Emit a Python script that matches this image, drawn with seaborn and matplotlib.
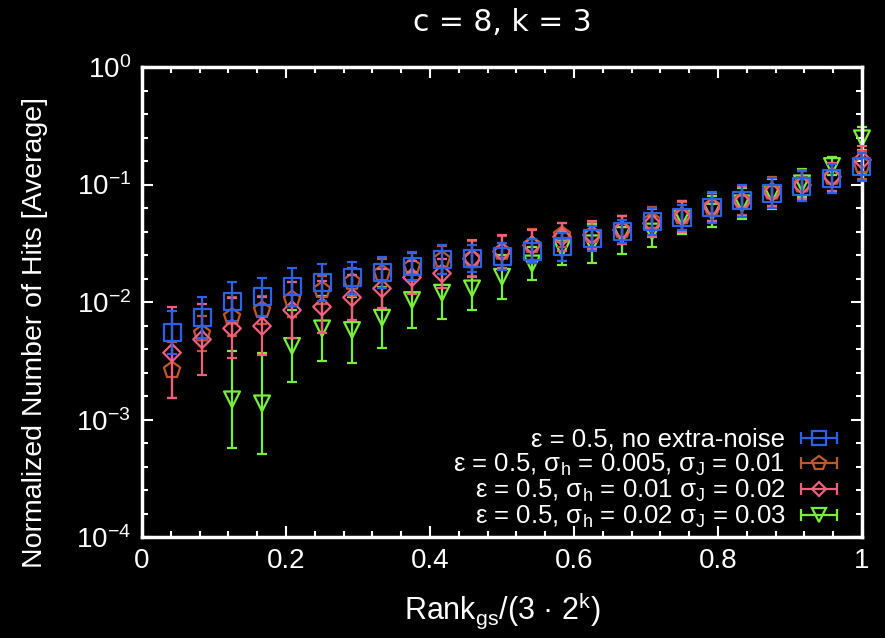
import numpy as np
import pandas as pd
import seaborn as sns
import matplotlib
matplotlib.use("Agg")
import matplotlib.pyplot as plt
from matplotlib.ticker import FixedLocator, FixedFormatter, NullFormatter
from matplotlib.lines import Line2D
from matplotlib.legend_handler import HandlerBase

# ---------------- data ----------------
rank = [i / 24 for i in range(1, 25)]

blue_val = [5.48e-3, 7.36e-3, 1.007e-2, 1.109e-2, 1.349e-2, 1.469e-2, 1.611e-2, 1.778e-2,
            2.023e-2, 2.307e-2, 2.355e-2, 2.46e-2, 2.716e-2, 2.958e-2, 3.483e-2, 3.972e-2,
            4.83e-2, 5.22e-2, 6.40e-2, 7.28e-2, 8.41e-2, 9.70e-2, 0.113, 0.142]
blue_err = [0.184, 0.173, 0.167, 0.162, 0.16, 0.154, 0.136, 0.13, 0.12, 0.12, 0.113, 0.115,
            0.10, 0.12, 0.105, 0.10, 0.113, 0.108, 0.13, 0.134, 0.128, 0.13, 0.124, 0.12]

orange_val = [2.64e-3, 5.41e-3, 7.50e-3, 8.55e-3, 1.054e-2, 1.265e-2, 1.489e-2, 1.754e-2,
              1.995e-2, 2.29e-2, 2.34e-2, 2.68e-2, 3.05e-2, 3.72e-2, 3.72e-2, 4.10e-2,
              4.90e-2, 5.37e-2, 6.46e-2, 7.24e-2, 8.71e-2, 0.100, 0.1164, 0.1466]
orange_err = [0.24, 0.15, 0.165, 0.12, 0.15, 0.12, 0.12, 0.12, 0.12, 0.12, 0.15, 0.136,
              0.134, 0.10, 0.11, 0.12, 0.12, 0.12, 0.12, 0.12, 0.12, 0.12, 0.12, 0.12]

pink_val = [3.71e-3, 4.81e-3, 5.97e-3, 6.25e-3, 8.55e-3, 9.12e-3, 1.096e-2, 1.306e-2,
            1.622e-2, 1.754e-2, 2.34e-2, 2.69e-2, 3.05e-2, 3.59e-2, 3.72e-2, 4.10e-2,
            4.68e-2, 5.37e-2, 6.46e-2, 7.16e-2, 8.61e-2, 9.89e-2, 0.1164, 0.162]
pink_err = [0.386, 0.30, 0.255, 0.247, 0.24, 0.22, 0.19, 0.165, 0.14, 0.12, 0.16, 0.14,
            0.13, 0.12, 0.12, 0.12, 0.12, 0.13, 0.12, 0.12, 0.12, 0.12, 0.12, 0.12]

green_val = [np.nan, np.nan, 1.486e-3, 1.374e-3, 4.23e-3, 5.97e-3, 5.78e-3, 7.36e-3,
             1.04e-2, 1.20e-2, 1.306e-2, 1.64e-2, 2.13e-2, 2.86e-2, 3.16e-2, 3.72e-2,
             3.98e-2, 5.25e-2, 5.87e-2, 6.92e-2, 8.32e-2, 0.1023, 0.1436, 0.247]
green_err = [np.nan, np.nan, 0.415, 0.43, 0.31, 0.28, 0.28, 0.26, 0.24, 0.22, 0.18, 0.19,
             0.142, 0.14, 0.165, 0.16, 0.135, 0.14, 0.13, 0.13, 0.13, 0.12, 0.08, 0.10]

labels = [
    r"ε = 0.5, no extra-noise",
    r"ε = 0.5, σ$_h$ = 0.005, σ$_J$ = 0.01",
    r"ε = 0.5, σ$_h$ = 0.01 σ$_J$ = 0.02",
    r"ε = 0.5, σ$_h$ = 0.02 σ$_J$ = 0.03",
]
x_ticks = [0, 0.2, 0.4, 0.6, 0.8, 1]
x_ticklabels = ["0", "0.2", "0.4", "0.6", "0.8", "1"]
y_ticks = [1e-4, 1e-3, 1e-2, 1e-1, 1]
y_ticklabels = ["$10^{-4}$", "$10^{-3}$", "$10^{-2}$", "$10^{-1}$", "$10^{0}$"]

# ---------------- style ----------------
sns.set_theme(style="dark")
plt.rcParams["font.family"] = ["Liberation Sans", "DejaVu Sans"]
plt.rcParams["mathtext.fontset"] = "custom"
plt.rcParams["mathtext.rm"] = "Liberation Sans"
plt.rcParams["mathtext.it"] = "Liberation Sans"
plt.rcParams["mathtext.default"] = "regular"

series = [
    ("blue", blue_val, blue_err, "#2a62ea", "s", 150, 6),
    ("orange", orange_val, orange_err, "#c0582a", "p", 150, 3),
    ("pink", pink_val, pink_err, "#f0607e", "D", 80, 4),
    ("green", green_val, green_err, "#78f03a", "v", 130, 2),
]


class ErrKeyHandler(HandlerBase):
    """gnuplot-like key sample: horizontal bar with end caps and a marker."""

    def create_artists(self, legend, orig_handle, xdescent, ydescent, width, height,
                       fontsize, trans):
        col = orig_handle.get_color()
        y = height / 2.0 - ydescent
        x0, x1 = -xdescent, -xdescent + width
        bar = Line2D([x0, x1], [y, y], color=col, lw=1.6)
        caps = Line2D([x0, x1], [y, y], color=col, lw=0, marker="|",
                      markersize=8, markeredgewidth=1.6)
        mk = Line2D([(x0 + x1) / 2.0], [y], lw=0, marker=orig_handle.get_marker(),
                    markersize=orig_handle.get_markersize(), markerfacecolor="none",
                    markeredgecolor=col, markeredgewidth=1.6)
        for a in (bar, caps, mk):
            a.set_transform(trans)
        return [bar, caps, mk]


fig = plt.figure(figsize=(8.85, 6.38), dpi=100, facecolor="black")
ax = fig.add_axes([0.1605, 0.158, 0.8135, 0.737])
ax.set_facecolor("black")
ax.set_yscale("log")

handles = []
handler_map = {}
for name, vals, errs, col, mk, size, z in series:
    df = pd.DataFrame({"x": rank, "v": vals, "d": errs}).dropna()
    lo = df["v"] - df["v"] * 10 ** (-df["d"])
    hi = df["v"] * 10 ** (df["d"]) - df["v"]
    ax.errorbar(df["x"], df["v"], yerr=[lo, hi], fmt="none", ecolor=col,
                elinewidth=1.6, capsize=3.6, capthick=1.6, zorder=z, clip_on=False)
    sns.scatterplot(data=df, x="x", y="v", ax=ax, marker=mk, s=size,
                    color=col, facecolor="none", edgecolor=col, linewidth=1.6,
                    zorder=z + 0.5, clip_on=False, legend=False)
    h = Line2D([], [], color=col, marker=mk, markersize=np.sqrt(size) * 0.85)
    handler_map[h] = ErrKeyHandler()
    handles.append(h)

ax.set_xlim(0, 1)
ax.set_ylim(1e-4, 1)

ax.xaxis.set_major_locator(FixedLocator(x_ticks))
ax.xaxis.set_major_formatter(FixedFormatter(x_ticklabels))
ax.xaxis.set_minor_locator(FixedLocator(np.arange(0, 1.0001, 0.04)))
ax.yaxis.set_major_locator(FixedLocator(y_ticks))
ax.yaxis.set_major_formatter(FixedFormatter(y_ticklabels))
ax.yaxis.set_minor_locator(FixedLocator(10 ** np.arange(-4, 0.001, 0.2)))
ax.yaxis.set_minor_formatter(NullFormatter())

ax.tick_params(which="both", direction="in", top=True, right=True, bottom=True, left=True,
               colors="white", width=1.5)
ax.tick_params(which="major", length=8, labelsize=20, pad=8)
ax.tick_params(which="minor", length=4.5)
for s in ax.spines.values():
    s.set_color("white")
    s.set_linewidth(2.5)
    s.set_visible(True)
ax.grid(False)

ax.set_xlabel(r"Rank$_{gs}$/(3 · 2$^{k}$)", color="white", fontsize=22, labelpad=12)
ax.set_ylabel("Normalized Number of Hits [Average]", color="white", fontsize=20.5)
ax.yaxis.set_label_coords(-0.13, 0.436)
ax.set_title("c = 8, k = 3", color="white", fontsize=21.5, pad=26,
             family=["DejaVu Sans"])

leg = ax.legend(handles, labels, handler_map=handler_map, loc="lower right",
                bbox_to_anchor=(0.99, -0.024), frameon=False, markerfirst=False,
                fontsize=18.5, labelspacing=0.0, handlelength=1.4, handletextpad=0.6,
                borderaxespad=0.3)
for t in leg.get_texts():
    t.set_color("white")

fig.savefig("out.png", dpi=100, facecolor="black")
